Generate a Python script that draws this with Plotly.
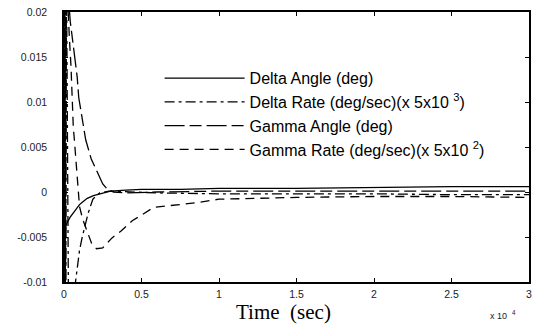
import plotly.graph_objects as go

# ---- data (time in units of 1e4 s) ----
delta_angle_t = [0, 0.01, 0.02, 0.04, 0.07, 0.10, 0.12, 0.15, 0.19, 0.25, 0.30, 0.40, 0.50, 0.75, 1.0, 1.5, 2.0, 2.5, 3.0]
delta_angle_y = [-0.0045, -0.0038, -0.0034, -0.0028, -0.0021, -0.0014, -0.0011, -0.0007, -0.0004, -0.0001, 0.0001, 0.0002,
                 0.0003, 0.0003, 0.0004, 0.0004, 0.0005, 0.0006, 0.0006]

delta_rate_t = [0, 0.002, 0.004, 0.006, 0.008, 0.010, 0.012, 0.014, 0.03, 0.06, 0.077, 0.09, 0.10, 0.115, 0.135,
                0.155, 0.186, 0.23, 0.29, 0.40, 0.60, 1.0, 1.5, 2.0, 2.5, 3.0]
delta_rate_y = [0.0, 0.03, -0.015, 0.03, -0.015, 0.03, -0.015, 0.03, -0.016, -0.012, -0.0100, -0.0082, -0.0065, -0.0052,
                -0.0038, -0.0024, -0.0008, -0.0001, 0.0001, 0.0, -0.0001, -0.0002, -0.0002, -0.0002, -0.0003, -0.0003]

gamma_angle_t = [0, 0.003, 0.006, 0.009, 0.012, 0.015, 0.04, 0.06, 0.075, 0.085, 0.095, 0.12, 0.14, 0.175, 0.22,
                 0.25, 0.28, 0.32, 0.40, 0.60, 1.0, 1.5, 2.0, 2.5, 3.0]
gamma_angle_y = [0.0, -0.015, 0.03, -0.015, 0.03, 0.025, 0.019, 0.0165, 0.0145, 0.0128, 0.0105, 0.0078, 0.0058, 0.0037,
                 0.0019, 0.0009, 0.0003, 0.0, -0.0001, 0.0, 0.0001, 0.0001, 0.0001, 0.0001, 0.0001]

gamma_rate_t = [0, 0.02, 0.035, 0.045, 0.05, 0.056, 0.06, 0.066, 0.077, 0.09, 0.10, 0.12, 0.147, 0.18, 0.21, 0.25,
                0.31, 0.37, 0.44, 0.58, 0.85, 1.0, 1.5, 2.0, 2.5, 3.0]
gamma_rate_y = [0.03, 0.022, 0.017, 0.014, 0.0115, 0.0095, 0.0072, 0.006, 0.0035, 0.0, -0.0016, -0.003, -0.0043,
                -0.0058, -0.0063, -0.0062, -0.0051, -0.0043, -0.0032, -0.0017, -0.0012, -0.0008, -0.0006, -0.0005,
                -0.0005, -0.0006]

x_tickvals = [0, 0.5, 1, 1.5, 2, 2.5, 3]
x_ticktext = ["0", "0.5", "1", "1.5", "2", "2.5", "3"]
y_tickvals = [-0.01, -0.005, 0, 0.005, 0.01, 0.015, 0.02]
y_ticktext = ["-0.01", "-0.005", "0", "0.005", "0.01", "0.015", "0.02"]

names = ["Delta Angle (deg)",
         "Delta Rate (deg/sec)(x 5x10 <sup>3</sup>)",
         "Gamma Angle (deg)",
         "Gamma Rate (deg/sec)(x 5x10 <sup>2</sup>)"]

fig = go.Figure()
series = [
    (delta_angle_t, delta_angle_y, "solid"),
    (delta_rate_t, delta_rate_y, "10px,4px,3px,4px"),
    (gamma_angle_t, gamma_angle_y, "20px,5px,12px,5px"),
    (gamma_rate_t, gamma_rate_y, "9px,6px"),
]
for (t, y, dash), name in zip(series, names):
    fig.add_trace(go.Scatter(x=t, y=y, mode="lines", name=name,
                             line=dict(color="black", width=1.3, dash=dash)))

axis_common = dict(showgrid=False, zeroline=False, showline=True, linecolor="black", linewidth=1.5,
                   mirror="ticks", ticks="inside", ticklen=4, tickcolor="black",
                   tickfont=dict(family="Liberation Sans, Arial", size=10.5, color="#222"))

fig.update_xaxes(range=[0, 3], tickvals=x_tickvals, ticktext=x_ticktext, ticklabelstandoff=2, **axis_common)
fig.update_yaxes(range=[-0.01, 0.02], tickvals=y_tickvals, ticktext=y_ticktext, ticklabelstandoff=13, **axis_common)

fig.add_annotation(text="Time\u00a0 (sec)", xref="paper", yref="paper", x=0.473, y=-0.111,
                   xanchor="center", yanchor="middle", showarrow=False,
                   font=dict(family="Liberation Serif, Times New Roman", size=21, color="black"))
fig.add_annotation(text="x 10\u00a0 <sup>4</sup>", xref="paper", yref="paper", x=0.945, y=-0.124,
                   xanchor="center", yanchor="middle", showarrow=False,
                   font=dict(family="Liberation Sans, Arial", size=9, color="#222"))

fig.update_layout(
    width=533, height=332,
    margin=dict(l=64, r=2, t=12, b=50),
    plot_bgcolor="white", paper_bgcolor="white",
    showlegend=True,
    legend=dict(x=0.2056, y=0.818, xanchor="left", yanchor="top", bgcolor="rgba(0,0,0,0)",
                borderwidth=0, itemwidth=80, tracegroupgap=0,
                font=dict(family="Liberation Sans, Arial", size=16, color="black")),
)

fig.write_html("out.html")
